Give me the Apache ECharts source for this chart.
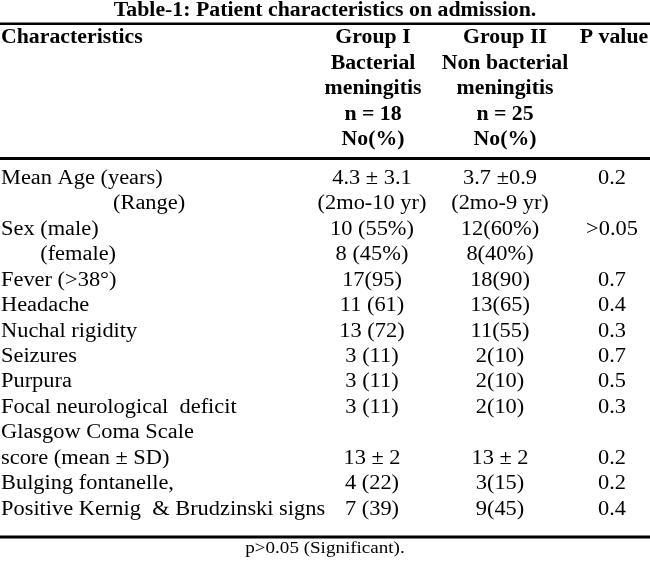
<!DOCTYPE html>
<html>
<head>
<meta charset="utf-8">
<title>Table-1</title>
<script src="https://cdn.jsdelivr.net/npm/echarts@6/dist/echarts.min.js"></script>
<style>
  html, body { margin: 0; padding: 0; background: #fff; }
  #chart { width: 650px; height: 562px; }
</style>
</head>
<body>
<div id="chart"></div>
<script>
// table text
var headerLabel = ['Characteristics', '', '', '', ''];
var headerGroup1 = ['Group I', 'Bacterial', 'meningitis', 'n = 18', 'No(%)'];
var headerGroup2 = ['Group II', 'Non bacterial', 'meningitis', 'n = 25', 'No(%)'];
var headerP = ['P value', '', '', '', ''];

var rowLabels = [
    'Mean Age (years)',
    '                    (Range)',
    'Sex (male)',
    '       (female)',
    'Fever (>38°)',
    'Headache',
    'Nuchal rigidity',
    'Seizures',
    'Purpura',
    'Focal neurological  deficit',
    'Glasgow Coma Scale',
    'score (mean ± SD)',
    'Bulging fontanelle,',
    'Positive Kernig  & Brudzinski signs'
];
var group1 = ['4.3 ± 3.1', '(2mo-10 yr)', '10 (55%)', '8 (45%)', '17(95)', '11 (61)', '13 (72)',
    '3 (11)', '3 (11)', '3 (11)', '', '13 ± 2', '4 (22)', '7 (39)'];
var group2 = ['3.7 ±0.9', '(2mo-9 yr)', '12(60%)', '8(40%)', '18(90)', '13(65)', '11(55)',
    '2(10)', '2(10)', '2(10)', '', '13 ± 2', '3(15)', '9(45)'];
var pValues = ['0.2', '', '>0.05', '', '0.7', '0.4', '0.3', '0.7', '0.5', '0.3', '', '0.2', '0.2', '0.4'];

var titleText = 'Table-1: Patient characteristics on admission.';
var footText = 'p>0.05 (Significant).';

var FONT = 'Liberation Serif';

// column anchors (pixel units on the hidden x axis) and alignment
var cols = [
    { x: 1, align: 'left' },
    { x: 372, align: 'center' },
    { x: 500, align: 'center' },
    { x: 612, align: 'center' }
];
var headerCols = [
    { x: 1, align: 'left' },
    { x: 373, align: 'center' },
    { x: 505, align: 'center' },
    { x: 614, align: 'center' }
];

function cellData(arrays) {
    var out = [];
    arrays.forEach(function (arr, c) {
        arr.forEach(function (t, r) {
            if (t !== '') out.push([c, r, t]);
        });
    });
    return out;
}

function textSeries(gridIndex, data, colDef, size, weight, sx) {
    return {
        type: 'custom',
        xAxisIndex: gridIndex,
        yAxisIndex: gridIndex,
        data: data,
        silent: true,
        renderItem: function (params, api) {
            var col = colDef[api.value(0)];
            var p = api.coord([col.x, api.value(1)]);
            return {
                type: 'text',
                x: p[0],
                y: p[1],
                scaleX: sx,
                style: {
                    text: data[params.dataIndex][2],
                    fill: '#000',
                    fontFamily: FONT,
                    fontSize: size,
                    fontWeight: weight,
                    align: col.align,
                    verticalAlign: 'middle'
                }
            };
        }
    };
}

function xAx(gridIndex) {
    return { type: 'value', gridIndex: gridIndex, min: 0, max: 650, show: false };
}
function yAx(gridIndex, n) {
    return { type: 'value', gridIndex: gridIndex, min: -0.5, max: n - 0.5, inverse: true, show: false };
}

var chart = echarts.init(document.getElementById('chart'));
var option = {
    backgroundColor: '#fff',
    animation: false,
    grid: [
        { left: 0, right: 0, top: 25.5, height: 127.5 },
        { left: 0, right: 0, top: 165.8, height: 356.5 }
    ],
    xAxis: [xAx(0), xAx(1)],
    yAxis: [yAx(0, 5), yAx(1, rowLabels.length)],
    series: [
        textSeries(0, cellData([headerLabel, headerGroup1, headerGroup2, headerP]), headerCols, 20, 'bold', 1.09),
        textSeries(1, cellData([rowLabels, group1, group2, pValues]), cols, 20, 'normal', 1.12)
    ],
    graphic: [
        {
            type: 'text', x: 325, y: 10.5, scaleX: 1.09, silent: true,
            style: { text: titleText, fill: '#000', fontFamily: FONT, fontSize: 20, fontWeight: 'bold', align: 'center', verticalAlign: 'middle' }
        },
        {
            type: 'text', x: 325, y: 549, scaleX: 1.12, silent: true,
            style: { text: footText, fill: '#000', fontFamily: FONT, fontSize: 17, fontWeight: 'normal', align: 'center', verticalAlign: 'middle' }
        },
        { type: 'rect', shape: { x: 0, y: 22.5, width: 650, height: 2.5 }, style: { fill: '#000' } },
        { type: 'rect', shape: { x: 0, y: 157, width: 650, height: 3 }, style: { fill: '#000' } },
        { type: 'rect', shape: { x: 0, y: 535.5, width: 650, height: 3 }, style: { fill: '#000' } }
    ]
};
chart.setOption(option);
</script>
</body>
</html>
